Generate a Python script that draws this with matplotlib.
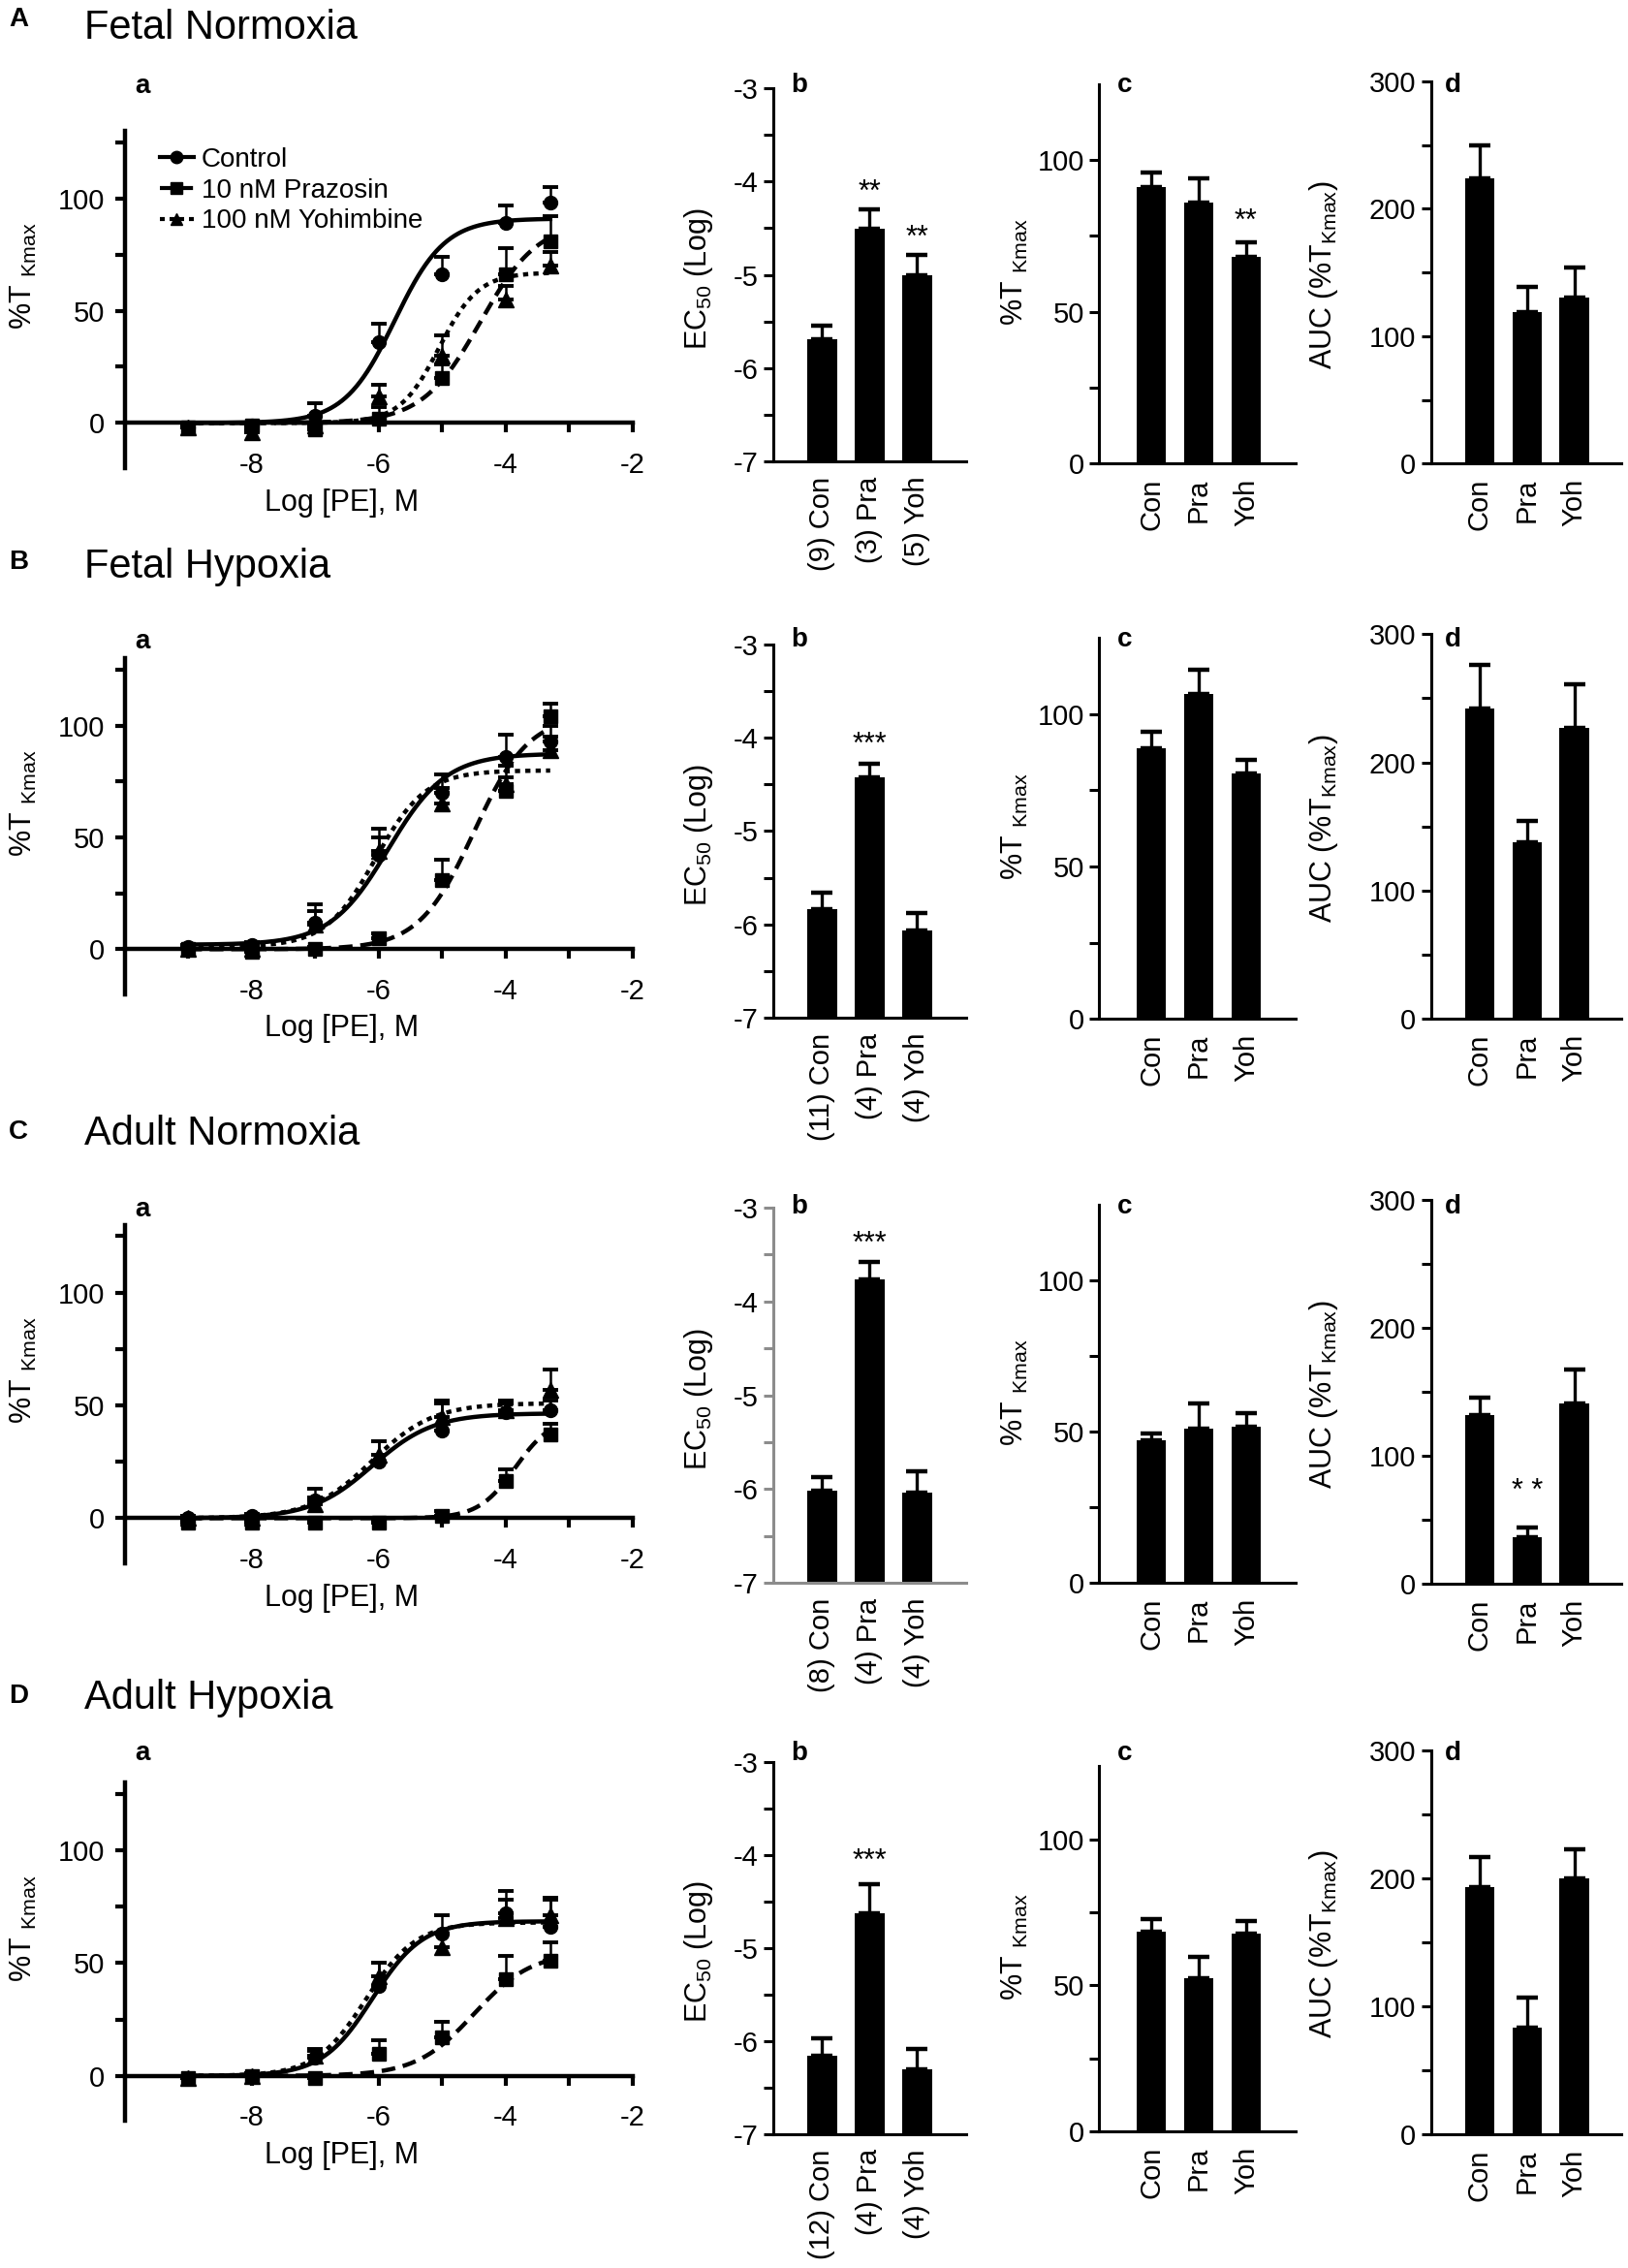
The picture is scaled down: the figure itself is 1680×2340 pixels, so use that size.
import matplotlib
matplotlib.use("Agg")
import matplotlib.pyplot as plt
import numpy as np

plt.rcParams['font.family'] = ['Liberation Sans', 'DejaVu Sans']
plt.rcParams['mathtext.fontset'] = 'custom'
plt.rcParams['mathtext.rm'] = 'Liberation Sans'
plt.rcParams['mathtext.it'] = 'Liberation Sans:italic'
plt.rcParams['mathtext.bf'] = 'Liberation Sans:bold'
plt.rcParams['axes.unicode_minus'] = False

W, H = 1681, 2340

# ---------------- data ----------------
row_letters = ['A', 'B', 'C', 'D']
row_titles = ['Fetal Normoxia', 'Fetal Hypoxia', 'Adult Normoxia', 'Adult Hypoxia']
series_names = ['Control', '10 nM Prazosin', '100 nM Yohimbine']
groups = ['Con', 'Pra', 'Yoh']
ec50_labels = [['(9) Con', '(3) Pra', '(5) Yoh'],
               ['(11) Con', '(4) Pra', '(4) Yoh'],
               ['(8) Con', '(4) Pra', '(4) Yoh'],
               ['(12) Con', '(4) Pra', '(4) Yoh']]

log_pe = [-9, -8, -7, -6, -5, -4, -3.3]

con_mean = [[-2, -1, 3, 36, 66, 89, 98],
            [1, 2, 12, 42, 70, 86, 93],
            [0, 1, 8, 25, 39, 47, 48],
            [-1, 0, 8, 40, 63, 72, 66]]
con_sem = [[1, 1, 6, 8, 8, 8, 7],
           [1, 1, 8, 12, 8, 10, 7],
           [1, 1, 5, 9, 12, 4, 4],
           [1, 1, 3, 10, 8, 10, 12]]
pra_mean = [[-2, -1, -3, 2, 20, 66, 81],
            [0, -1, 0, 5, 31, 71, 104],
            [-2, -2, -2, -2, 1, 16.5, 37],
            [-1, 0, -1, 10, 17, 43, 51]]
pra_sem = [[1, 1, 1, 5, 6, 12, 11],
           [1, 1, 1, 2, 9, 6, 6],
           [1, 1, 1, 1, 2, 5, 5],
           [1, 1, 1, 6, 7, 10, 8]]
yoh_mean = [[-2, -4, -1, 12, 30, 55, 70],
            [0, 0, 11, 44, 65, 74, 89],
            [0, 0, 6, 28, 45, 48, 57],
            [-1, 0, 9, 44, 57, 70, 71]]
yoh_sem = [[1, 1, 1, 5, 9, 6, 6],
           [1, 1, 6, 6, 7, 8, 6],
           [1, 1, 3, 6, 7, 4, 9],
           [1, 1, 3, 6, 6, 8, 8]]

# sigmoid fit parameters: bottom, top, logEC50, hill slope
con_fit = [(0, 91, -5.75, 1.1), (2, 87.5, -5.85, 0.95), (0, 46.5, -6.1, 0.9), (0, 68.5, -6.1, 1.1)]
pra_fit = [(0, 90, -4.4, 0.95), (0, 105, -4.5, 1.0), (0, 45, -3.85, 1.5), (0, 55, -4.5, 0.95)]
yoh_fit = [(0, 67, -5.05, 1.4), (1, 80, -6.05, 1.1), (0, 51, -6.1, 0.9), (0, 68, -6.2, 1.1)]

ec50_mean = [[-5.69, -4.51, -5.0], [-5.84, -4.42, -6.06], [-6.02, -3.76, -6.04], [-6.16, -4.63, -6.30]]
ec50_sem = [[0.15, 0.21, 0.21], [0.18, 0.14, 0.18], [0.15, 0.18, 0.23], [0.19, 0.32, 0.22]]
ec50_stars = [['', '**', '**'], ['', '***', ''], ['', '***', ''], ['', '***', '']]
ec50_star_y = [[0, -4.03, -4.52], [0, -3.99, 0], [0, -3.3, 0], [0, -3.98, 0]]

tmax_mean = [[91, 86, 68], [88.9, 106.7, 80.7], [47.1, 50.9, 51.5], [68.5, 52.4, 67.8]]
tmax_sem = [[5, 8, 5], [5.3, 7.8, 4.3], [2.2, 8.6, 4.7], [4.1, 7.5, 4.2]]
tmax_stars = [['', '', '**'], ['', '', ''], ['', '', ''], ['', '', '']]
tmax_star_y = [[0, 0, 82.5], [0, 0, 0], [0, 0, 0], [0, 0, 0]]

auc_mean = [[224, 119, 130], [242, 137.5, 227], [132, 36.5, 141], [193, 83.4, 200]]
auc_sem = [[26, 20, 24], [34, 17, 34], [14, 8, 26.5], [23.6, 23.2, 23]]
auc_stars = [['', '', ''], ['', '', ''], ['', '* *', ''], ['', '', '']]
auc_star_y = [[0, 0, 0], [0, 0, 0], [0, 79, 0], [0, 0, 0]]

# ---------------- layout (pixels) ----------------
a_x = (128.6, 653)
a_y = [(135.1, 482.8), (679.5, 1025.5), (1263.8, 1613), (1839, 2188.4)]
b_x = (797.9, 997)
c_x = (1134.3, 1337.2)
d_x = (1476.7, 1673.3)
b_y = [(90.7, 476.5), (664.7, 1050.2), (1246, 1633.2), (1817.7, 2201.9)]
c_y = [(87.1, 478), (658.2, 1051.3), (1243.4, 1633), (1822.3, 2199.2)]
d_y = [(84, 478.3), (654.3, 1051), (1238.3, 1634.4), (1805.8, 2202.3)]
title_top = [9, 565, 1150, 1732]
letter_top = [7, 567, 1155, 1737]
a_letter_y = [89, 661.6, 1247.9, 1809]
bcd_letter_y = [88, 660, 1245, 1809]

fig = plt.figure(figsize=(W / 100, H / 100), dpi=100)


def add_px_axes(xr, yr):
    return fig.add_axes([xr[0] / W, 1 - yr[1] / H, (xr[1] - xr[0]) / W, (yr[1] - yr[0]) / H])


def hill(x, p):
    bottom, top, ec, h = p
    return bottom + (top - bottom) / (1 + 10 ** ((ec - x) * h))


xs = np.linspace(-9, -3.3, 300)
styles = [dict(ls='-', marker='o', ms=10),
          dict(ls=(0, (3.2, 1.8)), marker='s', ms=9.5),
          dict(ls=(0, (1.2, 1.2)), marker='^', ms=11)]


def bar_panel(ax, means, sems, labels, base, ylim, major, minor, stars, star_y, xlim, ylabel, lcoords):
    x = np.arange(3)
    ax.bar(x, np.array(means) - base, bottom=base, width=0.62, color='k', zorder=2)
    ax.errorbar(x, means, yerr=[np.zeros(3), sems], fmt='none', ecolor='k',
                elinewidth=2.4, capsize=8, capthick=3.2, zorder=3)
    for i in range(3):
        if stars[i]:
            ax.annotate(stars[i], (x[i], star_y[i]), xytext=(0, -12), textcoords='offset points',
                        ha='center', va='baseline', fontsize=22)
    ax.set_xlim(*xlim)
    ax.set_ylim(*ylim)
    for s in ['top', 'right']:
        ax.spines[s].set_visible(False)
    for s in ['left', 'bottom']:
        ax.spines[s].set_linewidth(2.2)
    ax.set_yticks(major)
    ax.set_yticks(minor, minor=True)
    ax.set_xticks(x)
    ax.set_xticklabels(labels, rotation=90, fontsize=21)
    ax.tick_params(axis='x', length=0, pad=11)
    ax.tick_params(axis='y', which='both', direction='out', length=7, width=2.2, labelsize=21, pad=4)
    ax.set_ylabel(ylabel, fontsize=22)
    ax.yaxis.set_label_coords(*lcoords)


for r in range(4):
    # ---- row title ----
    fig.text(19 / W, 1 - letter_top[r] / H, row_letters[r], fontsize=20, fontweight='bold',
             ha='center', va='top')
    fig.text(87 / W, 1 - title_top[r] / H, row_titles[r], fontsize=30, ha='left', va='top')

    # ---- a: concentration-response ----
    ax = add_px_axes(a_x, a_y[r])
    means = [con_mean[r], pra_mean[r], yoh_mean[r]]
    sems = [con_sem[r], pra_sem[r], yoh_sem[r]]
    fits = [con_fit[r], pra_fit[r], yoh_fit[r]]
    for k in range(3):
        st = styles[k]
        ax.plot(xs, hill(xs, fits[k]), color='k', lw=3.2, ls=st['ls'], zorder=3)
        ax.errorbar(log_pe, means[k], yerr=[np.zeros(7), sems[k]], fmt=st['marker'], ms=st['ms'],
                    color='k', ecolor='k', elinewidth=1.8, capsize=6, capthick=2.8, zorder=4)
    ax.set_xlim(-10, -2)
    ax.set_ylim(-20, 130)
    for s in ['top', 'right']:
        ax.spines[s].set_visible(False)
    ax.spines['bottom'].set_position(('data', 0))
    for s in ['left', 'bottom']:
        ax.spines[s].set_linewidth(3.2)
    ax.set_xticks([-8, -6, -4, -2])
    ax.set_xticks([-9, -7, -5, -3], minor=True)
    ax.set_yticks([0, 50, 100])
    ax.set_yticks([25, 75, 125], minor=True)
    ax.tick_params(which='both', direction='out', length=7, width=3, labelsize=21)
    ax.tick_params(axis='x', pad=14)
    ax.tick_params(axis='y', pad=8)
    ax.set_xlabel('Log [PE], M', fontsize=22)
    ax.xaxis.set_label_coords(0.428, -0.06)
    ax.set_ylabel('%T $_{\\mathrm{Kmax}}$', fontsize=22)
    ax.yaxis.set_label_coords(-0.169, 0.57)
    if r == 0:
        handles = [plt.Line2D([], [], color='k', lw=3, ls=styles[k]['ls'], marker=styles[k]['marker'],
                              ms=9) for k in range(3)]
        ax.legend(handles, series_names, loc='upper left', bbox_to_anchor=(0.069, 0.951),
                  frameon=False, fontsize=20, handlelength=1.25, handletextpad=0.3,
                  labelspacing=0.2, borderaxespad=0, borderpad=0)
    fig.text((a_x[0] + 18.4) / W, 1 - a_letter_y[r] / H, 'a', fontsize=20, fontweight='bold',
             ha='center', va='center')

    # ---- b: EC50 ----
    axb = add_px_axes(b_x, b_y[r])
    bar_panel(axb, ec50_mean[r], ec50_sem[r], ec50_labels[r], -7, (-7, -3),
              [-7, -6, -5, -4, -3], [-6.5, -5.5, -4.5, -3.5], ec50_stars[r], ec50_star_y[r],
              (-1.03, 3.03), 'EC$_{50}$ (Log)', (-0.30, 0.49))
    if r == 2:
        for s in ['left', 'bottom']:
            axb.spines[s].set_color('0.55')
        axb.tick_params(axis='y', which='both', color='0.55')
    fig.text((b_x[0] + 27) / W, 1 - bcd_letter_y[r] / H, 'b', fontsize=20, fontweight='bold',
             ha='center', va='center')

    # ---- c: Tmax ----
    axc = add_px_axes(c_x, c_y[r])
    bar_panel(axc, tmax_mean[r], tmax_sem[r], groups, 0, (0, 125),
              [0, 50, 100], [25, 75], tmax_stars[r], tmax_star_y[r],
              (-1.1, 3.05), '%T $_{\\mathrm{Kmax}}$', (-0.35, 0.505))
    fig.text((c_x[0] + 26) / W, 1 - bcd_letter_y[r] / H, 'c', fontsize=20, fontweight='bold',
             ha='center', va='center')

    # ---- d: AUC ----
    axd = add_px_axes(d_x, d_y[r])
    bar_panel(axd, auc_mean[r], auc_sem[r], groups, 0, (0, 300),
              [0, 100, 200, 300], [50, 150, 250], auc_stars[r], auc_star_y[r],
              (-1.03, 3.0), 'AUC (%T$_{\\mathrm{Kmax}}$)', (-0.476, 0.495))
    fig.text((d_x[0] + 23) / W, 1 - bcd_letter_y[r] / H, 'd', fontsize=20, fontweight='bold',
             ha='center', va='center')

fig.savefig('out.png', dpi=100)
